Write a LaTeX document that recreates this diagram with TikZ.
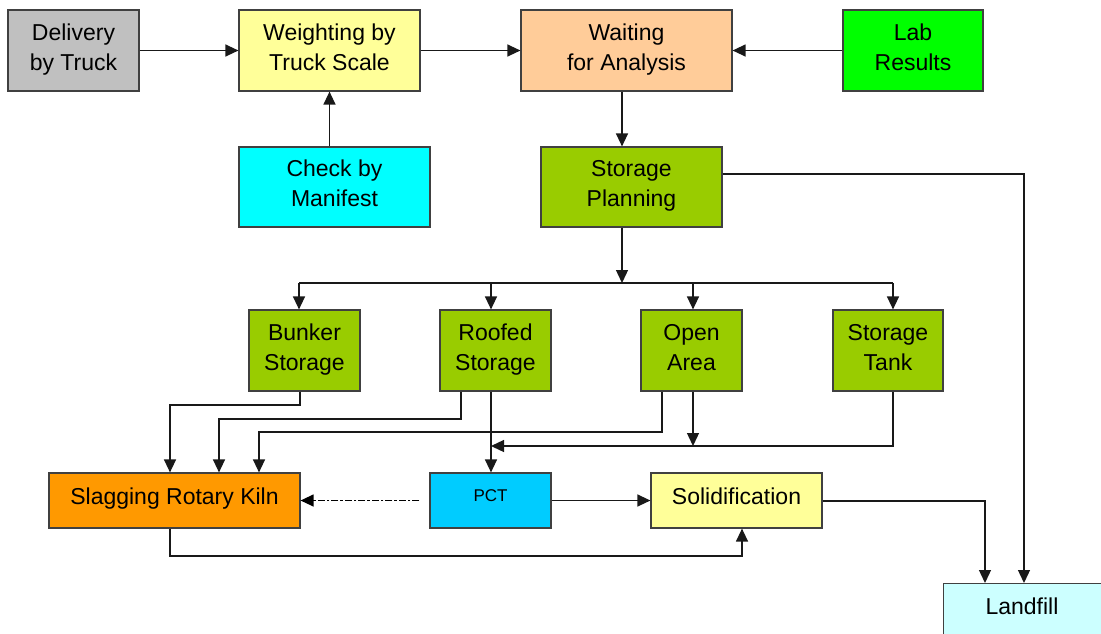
\documentclass[tikz,border=0pt]{standalone}
\usepackage{fontspec}
\setmainfont{Liberation Sans}
\usetikzlibrary{arrows.meta,calc}

\definecolor{boxline}{HTML}{404040}
\definecolor{fgray}{HTML}{C0C0C0}
\definecolor{fyellow}{HTML}{FFFF99}
\definecolor{fpeach}{HTML}{FFCC99}
\definecolor{fgreen}{HTML}{00FF00}
\definecolor{fcyan}{HTML}{00FFFF}
\definecolor{folive}{HTML}{99CC00}
\definecolor{forange}{HTML}{FF9900}
\definecolor{fsky}{HTML}{00CCFF}
\definecolor{fpale}{HTML}{CCFFFF}

\begin{document}
\begin{tikzpicture}[x=1pt,y=-1pt,
  box/.style={draw=boxline,line width=1.2pt,align=center,inner sep=0pt,
    font=\fontsize{23}{30}\selectfont},
  tallbox/.style={box,minimum height=81pt,text depth=7pt},
  flatbox/.style={box,minimum height=55pt,text depth=9pt},
  arr/.style={draw=black!90,line width=1.3pt,-{Triangle[length=13pt,width=12pt]}},
  dashdot/.style={arr,draw=black,line width=1.3pt,dash pattern=on 7pt off 2pt on 2.5pt off 2pt}]

\useasboundingbox (0,0) rectangle (1101,633);
\clip (0,0) rectangle (1101,633);

% top row
\node[tallbox,fill=fgray,minimum width=131pt] (delivery) at (73.5,50.5) {Delivery\\by Truck};
\node[tallbox,fill=fyellow,minimum width=181pt] (weigh) at (329.5,50.5) {Weighting by\\Truck Scale};
\node[tallbox,fill=fpeach,minimum width=211pt] (wait) at (626.5,50.5) {Waiting\\for Analysis};
\node[tallbox,fill=fgreen,minimum width=140pt] (lab) at (913,50.5) {Lab\\Results};

% second row
\node[tallbox,fill=fcyan,minimum width=191pt,minimum height=80pt] (check) at (334.5,187) {Check by\\Manifest};
\node[tallbox,fill=folive,minimum width=181pt,minimum height=80pt] (plan) at (631.5,187) {Storage\\Planning};

% storage types
\node[tallbox,fill=folive,minimum width=111pt] (bunker) at (304.5,350.5) {Bunker\\Storage};
\node[tallbox,fill=folive,minimum width=111pt] (roofed) at (495.5,350.5) {Roofed\\Storage};
\node[tallbox,fill=folive,minimum width=101pt] (open) at (691.5,350.5) {Open\\Area};
\node[tallbox,fill=folive,minimum width=110pt] (tank) at (888,350.5) {Storage\\Tank};

% treatment row
\node[flatbox,fill=forange,minimum width=251pt] (kiln) at (174.5,500.5) {Slagging Rotary Kiln};
\node[flatbox,fill=fsky,minimum width=121pt,font=\fontsize{17}{20}\selectfont,text depth=10pt] (pct) at (490.5,500.5) {PCT};
\node[flatbox,fill=fyellow,minimum width=171pt] (solid) at (736.5,500.5) {Solidification};

% landfill, running off the page edge
\node[box,fill=fpale,minimum width=170pt,minimum height=60pt,anchor=north west] (landfill) at (943,583) {};
\node[font=\fontsize{23}{30}\selectfont,inner sep=0pt] (landfilltext) at (1022,606) {Landfill};

% routing points
\coordinate (cx) at (622,0);
\coordinate (bus) at (622,283);
\coordinate (b1) at (299,283);
\coordinate (b2) at (491,283);
\coordinate (b3) at (693,283);
\coordinate (b4) at (893,283);
\coordinate (p1) at (1024,174);
\coordinate (bk) at (300,405);
\coordinate (k1) at (170,405);
\coordinate (r1) at (461,419);
\coordinate (k2) at (219,419);
\coordinate (o1) at (662,432);
\coordinate (k3) at (259,432);
\coordinate (j1) at (693,446);
\coordinate (j2) at (491,446);
\coordinate (s1) at (170,556);
\coordinate (s2) at (742,556);
\coordinate (l1) at (985,501);

% top row flow
\draw[arr] (delivery) -- (weigh);
\draw[arr] (weigh) -- (wait);
\draw[arr] (lab) -- (wait);
\draw[arr] (check.north -| weigh.south) -- (weigh.south);
\draw[arr] (wait.south -| cx) -- (plan.north -| cx);

% planning distributes to storage types
\draw[arr] (plan.south -| bus) -- (bus);
\draw[draw=black!90,line width=1.3pt] (b1) -- (b4);
\draw[arr] (b1) -- (b1 |- bunker.north);
\draw[arr] (b2) -- (b2 |- roofed.north);
\draw[arr] (b3) -- (b3 |- open.north);
\draw[arr] (b4) -- (b4 |- tank.north);

% planning straight to landfill
\draw[arr] (plan.east |- p1) -| (landfill.north -| p1);

% storage to kiln
\draw[arr] (bunker.south -| bk) |- (k1) -- (k1 |- kiln.north);
\draw[arr] (roofed.south -| r1) |- (k2) -- (k2 |- kiln.north);
\draw[arr] (open.south -| o1) |- (k3) -- (k3 |- kiln.north);

% storage to PCT
\draw[arr] (roofed.south -| b2) -- (pct.north -| b2);
\draw[arr] (open.south -| j1) -- (j1);
\draw[arr] (tank.south -| b4) |- (j2);

% treatment flow
\draw[dashdot,shorten <=10pt] (pct.west) -- (kiln.east);
\draw[arr] (pct) -- (solid);
\draw[arr] (kiln.south -| s1) |- (s2) -- (s2 |- solid.south);
\draw[arr] (solid.east |- l1) -| (landfill.north -| l1);

\end{tikzpicture}
\end{document}
